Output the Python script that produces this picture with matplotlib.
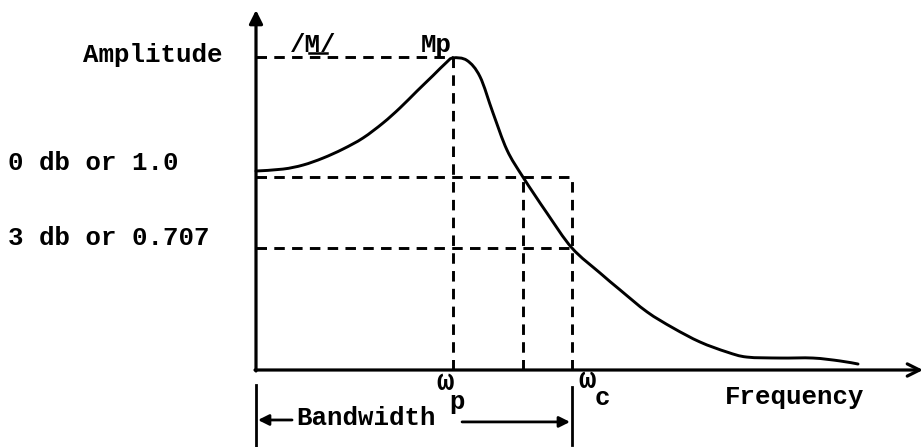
import matplotlib
matplotlib.use("Agg")
import matplotlib.pyplot as plt
from matplotlib.path import Path
from matplotlib.patches import PathPatch

# ---- data (frequency normalised so that omega_p = 1; amplitude as drawn, 1.0 = 0 db level) ----
freq = [0.0, 0.137, 0.239, 0.340, 0.442, 0.543, 0.645, 0.731, 0.817, 0.898, 0.965, 1.0,
        1.071, 1.137, 1.203, 1.274, 1.355, 1.477, 1.604, 1.746, 1.848, 1.985, 2.117,
        2.254, 2.391, 2.492, 2.660, 2.827, 2.964, 3.056]
amp = [1.031, 1.041, 1.062, 1.098, 1.145, 1.202, 1.280, 1.358, 1.445, 1.525, 1.592, 1.617,
       1.604, 1.520, 1.332, 1.140, 1.0, 0.813, 0.632, 0.503, 0.415, 0.301, 0.218,
       0.145, 0.093, 0.067, 0.062, 0.062, 0.047, 0.031]

w_p = 1.0          # resonant frequency
w_1 = 1.355        # frequency where response falls back to 1.0
w_c = 1.604        # cutoff frequency
Mp = 1.62          # peak magnitude level
unity = 1.0        # 0 db level
half_power = 0.632 # drawn level of the 0.707 (-3 db) line

y_labels = ["Amplitude", "0 db or 1.0", "3 db or 0.707"]

# ---- figure ----
W, H, DPI = 924, 447, 100
fig = plt.figure(figsize=(W / DPI, H / DPI), dpi=DPI)
ax = fig.add_axes([0, 0, 1, 1])
x0_px, y0_px, sx, sy = 256, 370, 197.0, 193.0
ax.set_xlim((0 - x0_px) / sx, (W - x0_px) / sx)
ax.set_ylim((y0_px - H) / sy, y0_px / sy)
ax.axis("off")

ink = "black"
font = dict(family=["Liberation Mono", "DejaVu Sans Mono"], size=18.5, weight="bold", color=ink)

# axes with arrows
ax.annotate("", xy=(0, 1.865), xytext=(0, -0.005),
            arrowprops=dict(arrowstyle="-|>", lw=2.3, color=ink, mutation_scale=20,
                            shrinkA=0, shrinkB=0))
ax.annotate("", xy=(3.386, 0), xytext=(-0.005, 0),
            arrowprops=dict(arrowstyle="->", lw=2.3, color=ink, mutation_scale=22,
                            shrinkA=0, shrinkB=0))

# response curve: smooth path through the read points (Catmull-Rom as cubic Bezier)
pts = list(zip(freq, amp))
verts = [pts[0]]
codes = [Path.MOVETO]
n = len(pts)
for i in range(n - 1):
    p0 = pts[i - 1] if i > 0 else pts[i]
    p1 = pts[i]
    p2 = pts[i + 1]
    p3 = pts[i + 2] if i + 2 < n else pts[i + 1]
    c1 = (p1[0] + (p2[0] - p0[0]) / 6, p1[1] + (p2[1] - p0[1]) / 6)
    c2 = (p2[0] - (p3[0] - p1[0]) / 6, p2[1] - (p3[1] - p1[1]) / 6)
    verts += [c1, c2, p2]
    codes += [Path.CURVE4] * 3
ax.add_patch(PathPatch(Path(verts, codes), facecolor="none", edgecolor=ink, lw=2.1,
                       capstyle="round", joinstyle="round"))

# dashed guide lines
ds = dict(color=ink, lw=2.1, linestyle=(0, (3.6, 2.5)))
ax.plot([0, w_p], [Mp, Mp], **ds)
ax.plot([w_p, w_p], [0, Mp], **ds)
ax.plot([0, w_c], [unity, unity], **ds)
ax.plot([0, w_c], [half_power, half_power], **ds)
ax.plot([w_1, w_1], [0, unity], **ds)
ax.plot([w_c, w_c], [0, unity], **ds)

# left labels
ax.text(-0.168, 1.632, y_labels[0], ha="right", va="center", **font)
ax.text(-1.259, 1.073, y_labels[1], ha="left", va="center", **font)
ax.text(-1.259, 0.684, y_labels[2], ha="left", va="center", **font)

# peak labels
ax.text(0.289, 1.684, "/M/", ha="center", va="center", **font)
ax.plot([0.27, 0.36], [1.645, 1.645], color=ink, lw=1.8)
ax.text(0.914, 1.684, "Mp", ha="center", va="center", **font)

# frequency labels
big = dict(font, size=21)
ax.text(0.959, -0.062, "ω", ha="center", va="center", **big)
ax.text(1.020, -0.166, "p", ha="center", va="center", **font)
ax.text(1.680, -0.052, "ω", ha="center", va="center", **big)
ax.text(1.756, -0.145, "c", ha="center", va="center", **font)
ax.text(2.736, -0.140, "Frequency", ha="center", va="center", **font)

# bandwidth marker
ax.plot([0, 0], [-0.078, -0.399], color=ink, lw=2.0)
ax.plot([w_c, w_c], [-0.088, -0.389], color=ink, lw=2.0)
ax.annotate("", xy=(0.01, -0.259), xytext=(0.183, -0.259),
            arrowprops=dict(arrowstyle="-|>", lw=2.0, color=ink, mutation_scale=16,
                            shrinkA=0, shrinkB=0))
ax.annotate("", xy=(w_c - 0.01, -0.269), xytext=(1.046, -0.269),
            arrowprops=dict(arrowstyle="-|>", lw=2.0, color=ink, mutation_scale=16,
                            shrinkA=0, shrinkB=0))
ax.text(0.558, -0.249, "Bandwidth", ha="center", va="center", **font)

fig.savefig("out.png", dpi=DPI, facecolor="white")
